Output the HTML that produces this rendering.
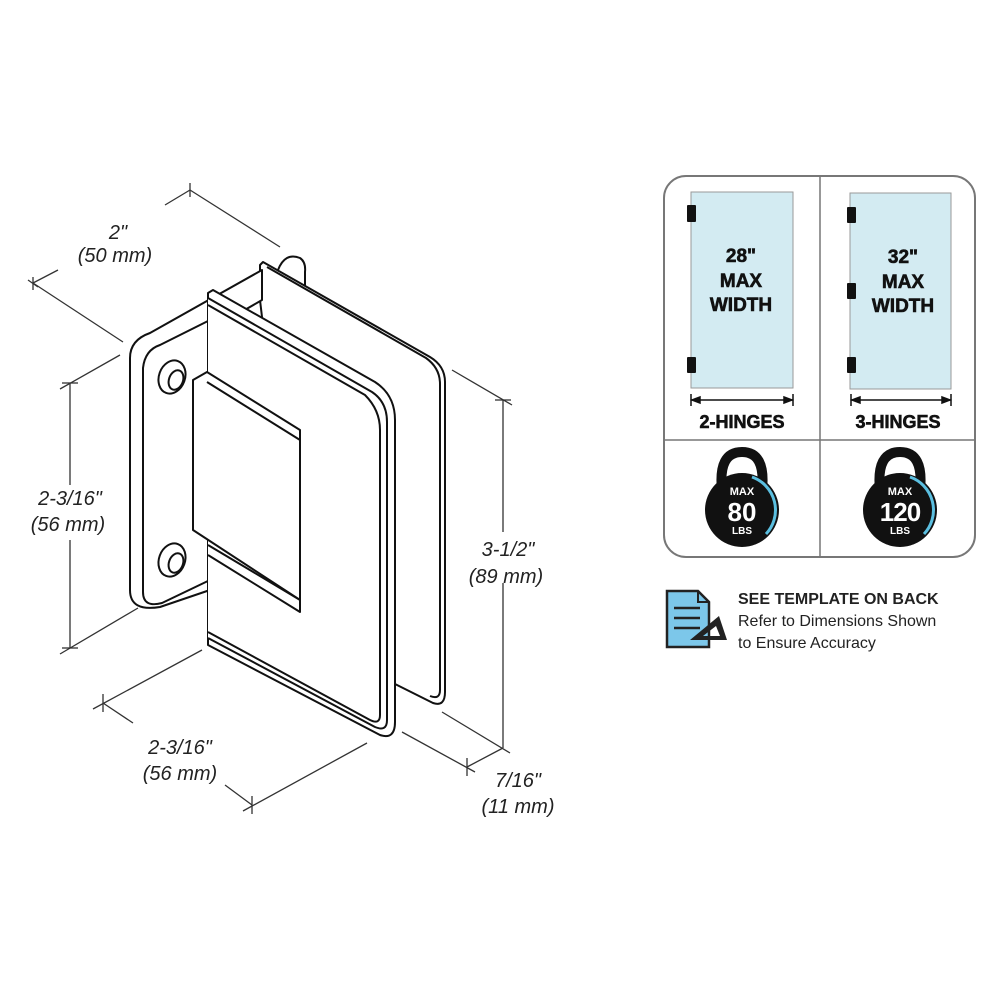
<!DOCTYPE html>
<html><head><meta charset="utf-8"><style>
html,body{margin:0;padding:0;background:#fff;}
svg{display:block;}
.d{font-family:"Liberation Sans",sans-serif;font-style:italic;font-size:20px;fill:#222;}
.b{font-family:"Liberation Sans",sans-serif;font-weight:bold;fill:#111;}
</style></head><body>
<svg width="1000" height="1000" viewBox="0 0 1000 1000" xmlns="http://www.w3.org/2000/svg">
<g stroke="#333" stroke-width="1.3" fill="none">
<line x1="33" y1="283" x2="123" y2="342"/><line x1="33" y1="283" x2="58" y2="270"/>
<line x1="28" y1="280" x2="38" y2="287"/><line x1="33" y1="277" x2="33" y2="290"/>
<line x1="190" y1="190" x2="280" y2="247"/><line x1="165" y1="205" x2="190" y2="190"/>
<line x1="190" y1="183" x2="190" y2="197"/>
<line x1="70" y1="383" x2="70" y2="485"/><line x1="70" y1="540" x2="70" y2="648"/>
<line x1="62" y1="383" x2="78" y2="383"/><line x1="62" y1="648" x2="78" y2="648"/>
<line x1="60" y1="389" x2="120" y2="355"/><line x1="60" y1="654" x2="138" y2="608"/>
<line x1="503" y1="400" x2="503" y2="532"/><line x1="503" y1="583" x2="503" y2="748"/>
<line x1="452" y1="370" x2="512" y2="405"/><line x1="495" y1="400" x2="511" y2="400"/>
<line x1="442" y1="712" x2="510" y2="753"/>
<line x1="402" y1="732" x2="475" y2="772"/><line x1="467" y1="767" x2="503" y2="748"/>
<line x1="467" y1="758" x2="467" y2="776"/>
<line x1="93" y1="709" x2="202" y2="650"/><line x1="103" y1="703" x2="133" y2="723"/>
<line x1="103" y1="694" x2="103" y2="712"/>
<line x1="225" y1="785" x2="252" y2="805"/><line x1="243" y1="811" x2="367" y2="743"/>
<line x1="252" y1="796" x2="252" y2="814"/>
</g>
<g class="d">
<text x="118" y="239" text-anchor="middle">2"</text>
<text x="115" y="262" text-anchor="middle">(50 mm)</text>
<text x="70" y="505" text-anchor="middle">2-3/16"</text>
<text x="68" y="531" text-anchor="middle">(56 mm)</text>
<text x="508" y="556" text-anchor="middle">3-1/2"</text>
<text x="506" y="583" text-anchor="middle">(89 mm)</text>
<text x="180" y="754" text-anchor="middle">2-3/16"</text>
<text x="180" y="780" text-anchor="middle">(56 mm)</text>
<text x="518" y="787" text-anchor="middle">7/16"</text>
<text x="518" y="813" text-anchor="middle">(11 mm)</text>
</g>
<g stroke="#111" stroke-width="2" fill="#fff" stroke-linejoin="round">
<path d="M278 270 Q285 252 300 258 Q306 262 305 272 L305 300 L278 300 Z"/>
<path d="M260 265 L263 262 L430 357 Q445 366 445 382 L445 692 Q445 707 433 703 L393 683 L300 640 L260 300 Z"/>
<path d="M267 267 L426 358 Q440 368 440 384 L440 690 Q440 700 430 696"/>
<path d="M130 358 Q130 340 150 333 L262 270 L262 300 L210 330 L210 590 L160 607 Q130 612 130 590 Z"/>
<path d="M143 368 Q145 350 160 345 L210 320 L210 580 L162 603 Q143 608 143 592 Z"/>
<ellipse cx="172" cy="377" rx="13" ry="17" transform="rotate(20 172 377)"/>
<ellipse cx="176" cy="380" rx="7" ry="10" transform="rotate(20 176 380)"/>
<ellipse cx="172" cy="560" rx="13" ry="17" transform="rotate(20 172 560)"/>
<ellipse cx="176" cy="563" rx="7" ry="10" transform="rotate(20 176 563)"/>
<path d="M208 293 L213 290 L375 382 Q395 395 395 420 L395 722 Q395 740 380 735 L208 645 Z"/>
<path d="M208 298 L372 392 Q387 402 387 422 L387 720 Q387 732 375 727 L208 638"/>
<path d="M208 305 L365 395 Q380 410 380 430 L380 715 Q380 725 370 720 L208 632"/>
<path d="M193 380 L207 372 L300 430 L300 600 L193 530 Z"/>
<path d="M207 382 L300 440"/>
<path d="M208 545 L300 600 M208 555 L300 612 L300 600"/>
</g>
<rect x="664" y="176" width="311" height="381" rx="22" fill="#fff" stroke="#777" stroke-width="2"/>
<line x1="820" y1="176" x2="820" y2="557" stroke="#777" stroke-width="1.5"/>
<line x1="664" y1="440" x2="975" y2="440" stroke="#777" stroke-width="1.5"/>
<rect x="691" y="192" width="102" height="196" fill="#d3ebf2" stroke="#999" stroke-width="1"/>
<rect x="850" y="193" width="101" height="196" fill="#d3ebf2" stroke="#999" stroke-width="1"/>
<g fill="#111">
<rect x="687" y="205" width="9" height="17" rx="1"/><rect x="687" y="357" width="9" height="16" rx="1"/>
<rect x="847" y="207" width="9" height="16" rx="1"/><rect x="847" y="283" width="9" height="16" rx="1"/><rect x="847" y="357" width="9" height="16" rx="1"/>
</g>
<g stroke="#111" stroke-width="1.5" fill="#111">
<line x1="691" y1="400" x2="793" y2="400"/><line x1="691" y1="394" x2="691" y2="406"/><line x1="793" y1="394" x2="793" y2="406"/>
<path d="M692 400 l8 -3 v6 z M792 400 l-8 -3 v6z"/>
<line x1="851" y1="400" x2="951" y2="400"/><line x1="851" y1="394" x2="851" y2="406"/><line x1="951" y1="394" x2="951" y2="406"/>
<path d="M852 400 l8 -3 v6 z M950 400 l-8 -3 v6z"/>
</g>
<g class="b" font-size="19" text-anchor="middle" stroke="#111" stroke-width="0.6">
<text x="741" y="262">28"</text><text x="741" y="287">MAX</text><text x="741" y="311">WIDTH</text>
<text x="903" y="263">32"</text><text x="903" y="288">MAX</text><text x="903" y="312">WIDTH</text>
<text x="742" y="428" font-size="18">2-HINGES</text>
<text x="898" y="428" font-size="18">3-HINGES</text>
</g>
<g>
<path d="M722 490 Q718 452 742 452 Q766 452 762 490" fill="none" stroke="#111" stroke-width="10"/>
<circle cx="742" cy="510" r="37" fill="#111"/>
<path d="M752 477 A35 35 0 0 1 766 534" fill="none" stroke="#5bbfe0" stroke-width="3"/>
<path d="M880 490 Q876 452 900 452 Q924 452 920 490" fill="none" stroke="#111" stroke-width="10"/>
<circle cx="900" cy="510" r="37" fill="#111"/>
<path d="M910 477 A35 35 0 0 1 924 534" fill="none" stroke="#5bbfe0" stroke-width="3"/>
</g>
<g font-family="Liberation Sans,sans-serif" font-weight="bold" fill="#fff" text-anchor="middle">
<text x="742" y="495" font-size="11">MAX</text><text x="742" y="521" font-size="26">80</text><text x="742" y="534" font-size="10">LBS</text>
<text x="900" y="495" font-size="11">MAX</text><text x="900" y="521" font-size="26" letter-spacing="-1">120</text><text x="900" y="534" font-size="10">LBS</text>
</g>
<path d="M667 591 L698 591 L709 602 L709 647 L667 647 Z" fill="#7cc7ea" stroke="#222" stroke-width="2.5"/>
<path d="M698 591 L698 602 L709 602" fill="none" stroke="#222" stroke-width="2"/>
<g stroke="#222" stroke-width="2.5"><line x1="674" y1="608" x2="700" y2="608"/><line x1="674" y1="618" x2="700" y2="618"/><line x1="674" y1="628" x2="700" y2="628"/></g>
<path d="M690 640 L719 616 L727 640 Z M703 636 L716 626 L720 636 Z" fill="#222" fill-rule="evenodd"/>
<g font-family="Liberation Sans,sans-serif" fill="#222">
<text x="738" y="604" font-size="16" font-weight="bold">SEE TEMPLATE ON BACK</text>
<text x="738" y="626" font-size="16">Refer to Dimensions Shown</text>
<text x="738" y="648" font-size="16">to Ensure Accuracy</text>
</g>
</svg>
</body></html>
